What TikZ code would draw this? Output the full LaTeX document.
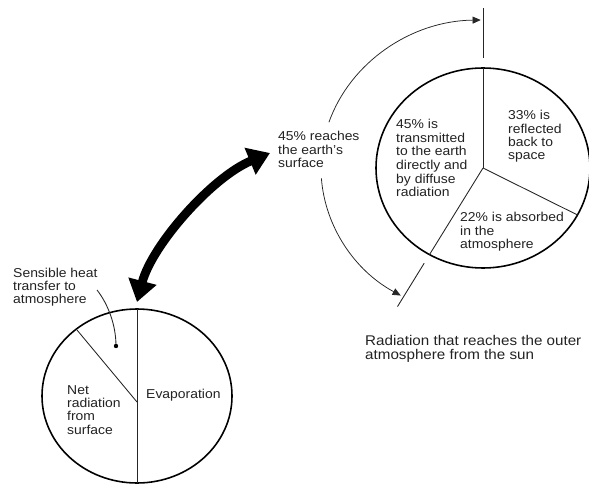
\documentclass[tikz,border=0pt]{standalone}
\usepackage{fontspec}
\setmainfont{Liberation Sans}
\usepackage{graphicx}
\usetikzlibrary{arrows.meta,calc}
\definecolor{txt}{HTML}{222222}
\newcommand\tb[3]{\scalebox{1.08}[1]{\fontsize{#1}{#2}\selectfont\begin{tabular}[t]{@{}l@{}}#3\end{tabular}}}
\begin{document}
\begin{tikzpicture}[x=0.03cm,y=0.03cm,
  lbl/.style={anchor=base west, inner sep=0pt, text=txt},
  rim/.style={line width=1.35pt},
  divider/.style={line width=0.75pt, draw=black!85},
  orbit/.style={line width=0.65pt, draw=black!85, -{Triangle[length=7pt,width=6pt]}},
  bigarrow/.style={line width=7.5pt, {Triangle[length=18.4pt,width=23.7pt]}-{Triangle[length=18.4pt,width=23.7pt]}}
]
\useasboundingbox (0,0) rectangle (589,-484);
% centres
\coordinate (c1) at (483,-168);
\coordinate (c2) at (137,-396);
% pies
\draw[rim] (c1) ellipse[x radius=107, y radius=100];
\draw[rim] (c2) ellipse[x radius=95, y radius=87];
\draw[divider] (c1) -- ($(c1)+(90:107 and 100)$);
\draw[divider] (c1) -- ($(c1)+(-28:107 and 100)$);
\draw[divider] (c1) -- ($(c1)+(240:107 and 100)$);
\draw[divider] ($(c2)+(90:95 and 87)$) -- ($(c2)+(270:95 and 87)$);
\coordinate (d0) at (77,-330);
\coordinate (d1) at (137,-402);
\draw[divider] (d0) -- (d1);
% ticks
\coordinate (t1a) at ($(c1)+(90:117.7 and 110)$);
\coordinate (t1b) at ($(c1)+(90:171 and 160)$);
\coordinate (t2a) at ($(c1)+(240:117.7 and 110)$);
\coordinate (t2b) at ($(c1)+(240:171 and 160)$);
\draw[divider] (t1a) -- (t1b);
\draw[divider] (t2a) -- (t2b);
% orbit arcs
\coordinate (o1) at ($(c1)+(162:162 and 148)$);
\coordinate (o2) at ($(c1)+(184:162 and 148)$);
\draw[orbit] (o1) arc[start angle=162, end angle=90.8, x radius=162, y radius=148];
\draw[orbit] (o2) arc[start angle=184, end angle=239.5, x radius=162, y radius=148];
% thick double arrow
\coordinate (bt1) at (137,-302);
\coordinate (bt2) at (270,-153);
\draw[bigarrow] (bt1) .. controls (152,-245) and (212,-177) .. (bt2);
% leader
\coordinate (ld0) at (97,-290);
\coordinate (dot) at (116,-346);
\draw[divider] (ld0) .. controls (108,-304) and (116,-325) .. (dot);
\fill (dot) circle[radius=2.2];
% labels
\node[lbl] (reach) at (278,-141) {\tb{11}{10.8}{45\% reaches\\the earth's\\surface}};
\node[lbl] (trans) at (396,-128.3) {\tb{11}{11.7}{45\% is\\transmitted\\to the earth\\directly and\\by diffuse\\radiation}};
\node[lbl] (refl) at (508,-120) {\tb{11}{11.2}{33\% is\\reflected\\back to\\space}};
\node[lbl] (abs) at (460,-222) {\tb{11}{11.5}{22\% is absorbed\\in the\\atmosphere}};
\node[lbl] (cap) at (365,-345) {\tb{12}{11.4}{Radiation that reaches the outer\\atmosphere from the sun}};
\node[lbl] (sens) at (13,-277.3) {\tb{11}{11.1}{Sensible heat\\transfer to\\atmosphere}};
\node[lbl] (net) at (67,-394) {\tb{11}{11.5}{Net\\radiation\\from\\surface}};
\node[lbl] (evap) at (146,-398.5) {\tb{11}{11.5}{Evaporation}};
\end{tikzpicture}
\end{document}
